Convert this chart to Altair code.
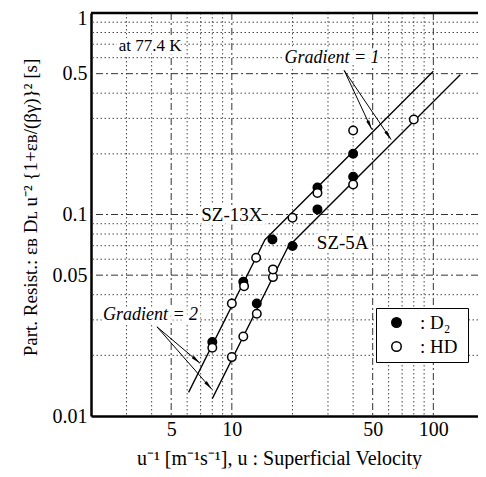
import math
import altair as alt
import pandas as pd

# ---------------- data ----------------
# SZ-13X
sz13_d2_x = [8.0, 11.4, 15.9, 26.6, 40.0]
sz13_d2_y = [0.0233, 0.0464, 0.0751, 0.136, 0.200]
sz13_hd_x = [8.0, 10.0, 11.5, 13.2, 20.0, 26.6, 40.0]
sz13_hd_y = [0.0218, 0.0362, 0.0441, 0.0610, 0.0963, 0.128, 0.261]
# SZ-5A
sz5_d2_x = [13.3, 20.0, 26.6, 40.0]
sz5_d2_y = [0.0362, 0.0697, 0.106, 0.154]
sz5_hd_x = [10.0, 11.4, 13.3, 16.0, 16.0, 40.0, 80.0]
sz5_hd_y = [0.0196, 0.0248, 0.0322, 0.0489, 0.0534, 0.141, 0.296]

# fitted lines (gradient 2 then gradient 1)
sz13_line_x = [6.1, 14.6, 100.0]
sz13_line_y = [0.0131, 0.075, 0.514]
sz5_line_x = [8.0, 19.0, 136.0]
sz5_line_y = [0.0122, 0.069, 0.494]

# annotation arrows: start -> end
arrow_x0 = [36.1, 36.1, 4.25, 4.25]
arrow_y0 = [0.519, 0.519, 0.0277, 0.0277]
arrow_x1 = [49.5, 61.7, 6.96, 7.96]
arrow_y1 = [0.264, 0.2355, 0.01826, 0.01356]

# text labels
label_text = ["at 77.4 K", "SZ-13X", "SZ-5A"]
label_x = [3.93, 10.0, 35.5]
label_y = [0.683, 0.1, 0.0724]
label_size = [17, 19, 19]
grad_text = ["Gradient = 1", "Gradient = 2"]
grad_x = [31.4, 3.95]
grad_y = [0.600, 0.0316]

# axes / grid values
x_ticks = [5, 10, 50, 100]
y_ticks = [0.01, 0.05, 0.1, 0.5, 1]
x_minor = [3, 4, 6, 7, 8, 9, 20, 30, 40, 60, 70, 80, 90]
x_major = [5, 10, 50, 100]
y_minor = [0.02, 0.03, 0.04, 0.06, 0.07, 0.08, 0.09, 0.2, 0.3, 0.4, 0.6, 0.7, 0.8, 0.9]
y_major = [0.05, 0.1, 0.5]
top_edge = [1.0]

SERIF = "Liberation Serif"

# ---------------- tables ----------------
pts = pd.DataFrame(
    [{"x": x, "y": y, "gas": "D2"} for x, y in zip(sz13_d2_x, sz13_d2_y)]
    + [{"x": x, "y": y, "gas": "D2"} for x, y in zip(sz5_d2_x, sz5_d2_y)]
    + [{"x": x, "y": y, "gas": "HD"} for x, y in zip(sz13_hd_x, sz13_hd_y)]
    + [{"x": x, "y": y, "gas": "HD"} for x, y in zip(sz5_hd_x, sz5_hd_y)]
)
lines = pd.DataFrame(
    [{"x": x, "y": y, "s": "SZ-13X"} for x, y in zip(sz13_line_x, sz13_line_y)]
    + [{"x": x, "y": y, "s": "SZ-5A"} for x, y in zip(sz5_line_x, sz5_line_y)]
)
arrows = pd.DataFrame({"x0": arrow_x0, "y0": arrow_y0, "x1": arrow_x1, "y1": arrow_y1})
arrows["ang"] = [
    math.degrees(math.atan2(-(math.log10(b1) - math.log10(b0)), math.log10(a1) - math.log10(a0)))
    for a0, b0, a1, b1 in zip(arrow_x0, arrow_y0, arrow_x1, arrow_y1)
]
labels = pd.DataFrame({"x": label_x, "y": label_y, "t": label_text, "fs": label_size})
grads = pd.DataFrame({"x": grad_x, "y": grad_y, "t": grad_text})

xs = alt.Scale(type="log", domain=[2, 166.6], nice=False)
ys = alt.Scale(type="log", domain=[0.01, 1], nice=False)

xaxis = alt.Axis(
    values=x_ticks, format="~g", grid=False, ticks=False, domain=True,
    domainColor="black", domainWidth=2.5, labelFont=SERIF, labelFontSize=20,
    labelColor="black", labelPadding=3, labelFlush=False, labelOverlap=False,
    title="u⁻¹   [m⁻¹s⁻¹],    u : Superficial Velocity", titleFont=SERIF,
    titleFontSize=20, titleFontWeight="normal", titleColor="black",
    titleX=188, titleY=42, titleBaseline="middle", titleAlign="center",
)
yaxis = alt.Axis(
    values=y_ticks, format="~g", grid=False, ticks=False, domain=True,
    domainColor="black", domainWidth=2.5, labelFont=SERIF, labelFontSize=20,
    labelColor="black", labelPadding=4, labelFlush=False, labelOverlap=False,
    labelOffset={"condition": {"test": "datum.value >= 1", "value": 5}, "value": 0},
    title="Part. Resist.:  εʙ Dʟ u⁻² {1+εʙ/(βγ)}²    [s]", titleFont=SERIF,
    titleFontSize=19, titleFontWeight="normal", titleColor="black",
    titleX=-61, titleY=194, titleAngle=-90, titleBaseline="middle", titleAlign="center",
)


def X(f):
    return alt.X(f, type="quantitative", scale=xs, axis=xaxis)


def Y(f):
    return alt.Y(f, type="quantitative", scale=ys, axis=yaxis)


base_x = lambda vals: alt.Chart(pd.DataFrame({"v": vals}))

grid_xmin = base_x(x_minor).mark_rule(color="#333", strokeWidth=0.9, strokeDash=[1.5, 2.5]).encode(x=X("v"))
grid_ymin = base_x(y_minor).mark_rule(color="#333", strokeWidth=0.9, strokeDash=[1.5, 2.5]).encode(y=Y("v"))
grid_xmaj = base_x(x_major).mark_rule(color="#333", strokeWidth=1, strokeDash=[7, 3, 2, 3]).encode(x=X("v"))
grid_ymaj = base_x(y_major).mark_rule(color="#333", strokeWidth=1, strokeDash=[7, 3, 2, 3]).encode(y=Y("v"))
top_rule = base_x(top_edge).mark_rule(color="black", strokeWidth=2.5).encode(y=Y("v"))

fit = alt.Chart(lines).mark_line(color="black", strokeWidth=1.3).encode(x=X("x"), y=Y("y"), detail="s:N")

shafts = alt.Chart(arrows).mark_rule(color="black", strokeWidth=1).encode(
    x=X("x0"), y=Y("y0"), x2="x1", y2="y1"
)
heads = alt.Chart(arrows).mark_point(
    shape="M0,0L-3.2,-0.55L-3.2,0.55Z", filled=True, color="black", size=36, opacity=1
).encode(x=X("x1"), y=Y("y1"), angle=alt.Angle("ang:Q", scale=None))

points = alt.Chart(pts).mark_point(
    shape="circle", filled=True, stroke="black", strokeWidth=1.5, size=72, opacity=1
).encode(
    x=X("x"), y=Y("y"),
    fill=alt.Fill(
        "gas:N",
        scale=alt.Scale(domain=["D2", "HD"], range=["black", "white"]),
        legend=alt.Legend(
            title=None, orient="none", legendX=285, legendY=295,
            symbolType="circle", symbolSize=90, symbolStrokeColor="black",
            symbolStrokeWidth=1.5, symbolOffset=6, labelFont=SERIF, labelFontSize=19,
            labelColor="black",
            labelExpr="datum.label == 'D2' ? ':  D₂\u2002\u2002' : ':  HD\u2002\u2002'",
            rowPadding=4, padding=5, strokeColor="black",
            fillColor="white", labelOffset=14, offset=0,
        ),
    ),
)

lab_bg = alt.Chart(labels).mark_text(font=SERIF, stroke="white", strokeWidth=7, color="white", baseline="middle").encode(
    x=X("x"), y=Y("y"), text="t:N", size=alt.Size("fs:Q", scale=None, legend=None)
)
lab = alt.Chart(labels).mark_text(font=SERIF, color="black", baseline="middle").encode(
    x=X("x"), y=Y("y"), text="t:N", size=alt.Size("fs:Q", scale=None, legend=None)
)
grad_bg = alt.Chart(grads).mark_text(font=SERIF, fontStyle="italic", fontSize=18, stroke="white", strokeWidth=7, color="white", baseline="middle").encode(
    x=X("x"), y=Y("y"), text="t:N"
)
grad = alt.Chart(grads).mark_text(font=SERIF, fontStyle="italic", fontSize=18, color="black", baseline="middle").encode(
    x=X("x"), y=Y("y"), text="t:N"
)

chart = alt.layer(
    grid_xmin, grid_ymin, grid_xmaj, grid_ymaj, top_rule,
    fit, shafts, heads, lab_bg, lab, grad_bg, grad, points,
).properties(
    width=387, height=403,
    autosize=alt.AutoSizeParams(type="none"),
    padding={"left": 83, "top": 5, "right": 0, "bottom": 53},
).configure_view(strokeWidth=0).configure_legend(strokeWidth=1.5).configure(background="white")

chart.save("out.html", embed_options={"renderer": "svg", "actions": False})
